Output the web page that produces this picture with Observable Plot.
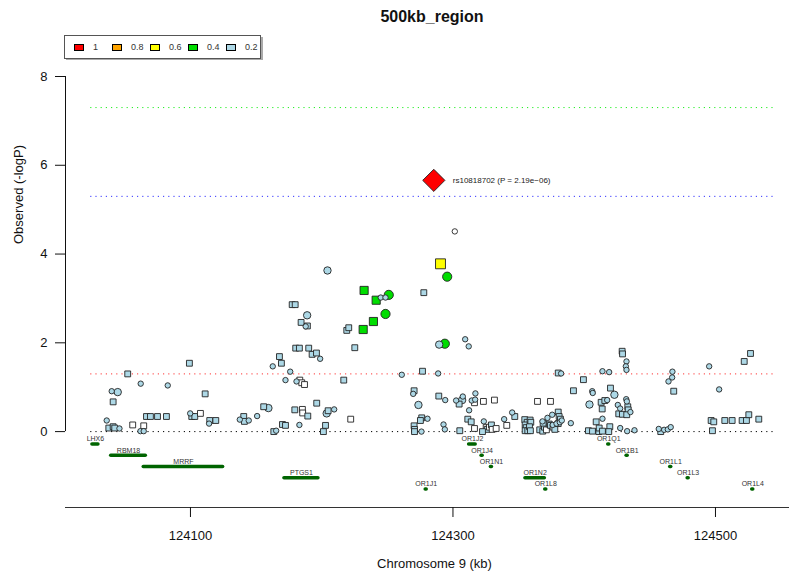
<!DOCTYPE html>
<html><head><meta charset="utf-8">
<script src="https://cdn.jsdelivr.net/npm/d3@7"></script>
<script src="https://cdn.jsdelivr.net/npm/@observablehq/plot@0.6"></script>
<style>
body{margin:0;background:#fff;font-family:"Liberation Sans",Arial,sans-serif;}
#wrap{position:relative;width:789px;height:577px;overflow:hidden;background:#fff;}
#title{position:absolute;left:282px;width:300px;top:7px;text-align:center;font-weight:bold;font-size:16px;line-height:20px;color:#111;}
#legend{position:absolute;left:64px;top:35px;width:195px;height:22px;border:1px solid #555;box-shadow:2px 2px 0 #aaa;background:#fff;}
.item{position:absolute;top:0;height:22px;display:flex;align-items:center;font-size:9px;color:#333;}
.sw{width:8px;height:5px;border:1px solid #000;margin-right:9px;}
#chart{position:absolute;left:0;top:60px;}
</style></head>
<body><div id="wrap"><div id="title"></div><div id="legend"></div><div id="chart"></div></div>
<script>
const chartTitle = "500kb_region";
const xTitle = "Chromosome 9 (kb)";
const yTitle = "Observed (-logP)";
const topSnpLabel = "rs10818702 (P = 2.19e\u221206)";
const xTicks = [124100, 124300, 124500];
const yTicks = [0, 2, 4, 6, 8];
const sigLevels = [7.3, 5.3, 1.3, 0];
const regionStart = 124024, regionEnd = 124546;
const ldBins = ["1", "0.8", "0.6", "0.4", "0.2"];

const snpPos = [
124099.2,124052.2,124062.1,124082.7,124040.0,124044.6,124041.1,124111.2,124036.2,124037.8,
124041.1,124042.3,124045.9,124056.0,124064.4,124061.9,124064.4,124066.5,124069.5,124074.9,
124081.7,124099.8,124101.0,124103.3,124107.6,124114.7,124119.3,124114.2,124137.6,124140.6,
124141.1,124144.4,124150.8,124155.8,124159.4,124204.4,124232.3,124241.5,124245.0,124248.6,
124251.1,124248.6,124239.4,124231.6,124277.8,124177.5,124179.8,124188.9,124184.3,124189.1,
124187.8,124219.1,124220.6,124225.2,124180.2,124183.0,124190.1,124192.7,124196.0,124198.8,
124167.8,124169.3,124162.7,124176.0,124172.4,124180.8,124183.3,124184.8,124186.9,124216.8,
124261.0,124276.8,124270.4,124269.7,124273.7,124276.2,124275.2,124280.6,124270.4,124270.7,
124270.7,124276.0,124179.5,124185.3,124185.5,124189.4,124196.2,124204.9,124203.8,124209.5,
124222.1,124170.1,124172.4,124183.0,124202.9,124201.3,124163.5,124165.3,124285.4,124301.4,
124290.5,124295.6,124289.5,124293.8,124309.3,124312.0,124288.7,124380.2,124382.4,124399.4,
124391.8,124289.2,124294.1,124302.4,124307.0,124307.5,124304.7,124314.3,124316.9,124317.1,
124316.4,124323.2,124331.6,124364.4,124374.3,124312.3,124345.1,124347.1,124339.0,124311.3,
124313.9,124323.5,124292.8,124293.8,124305.2,124316.4,124325.3,124326.1,124327.8,124329.3,
124329.9,124332.9,124341.0,124354.7,124356.5,124355.0,124355.8,124355.0,124357.0,124358.8,
124359.3,124358.3,124359.0,124366.1,124368.4,124369.7,124371.2,124373.3,124374.3,124376.3,
124377.6,124368.7,124368.2,124372.0,124376.0,124378.9,124381.4,124382.9,124375.6,124380.2,
124380.9,124381.9,124380.2,124389.8,124403.2,124404.0,124406.1,124406.5,124409.1,124406.3,
124411.1,124322.5,124428.9,124429.2,124432.2,124431.7,124432.2,124413.9,124419.0,124467.2,
124467.0,124464.2,124526.7,124521.9,124495.2,124502.8,124468.2,124420.0,124423.0,124432.0,
124432.5,124412.9,124415.7,124417.5,124425.6,124427.4,124433.2,124433.5,124435.2,124426.3,
124429.1,124432.4,124413.7,124413.9,124419.5,124411.4,124413.9,124418.7,124427.4,124432.7,
124438.3,124456.8,124458.3,124460.9,124463.7,124465.9,124496.7,124498.7,124507.1,124512.7,
124520.3,124523.6,124525.4,124533.0,124497.7];

const snpLogP = [
1.54,1.30,1.08,1.04,0.91,0.89,0.67,0.85,0.25,0.08,
0.11,0.08,0.07,0.15,0.13,0.01,0.01,0.34,0.34,0.34,
0.34,0.41,0.34,0.34,0.41,0.25,0.25,0.18,0.27,0.34,
0.23,0.25,0.35,0.56,0.53,3.63,3.18,2.96,3.02,3.02,
3.08,2.65,2.48,2.30,3.13,2.86,2.86,2.62,2.46,2.38,
2.37,2.28,2.34,1.89,1.88,1.88,1.88,1.74,1.77,1.64,
1.69,1.54,1.47,1.35,1.16,1.13,1.16,1.10,1.06,1.16,
1.28,1.36,0.92,0.85,0.60,0.31,0.25,0.29,0.13,0.05,
0.00,0.00,0.49,0.50,0.42,0.35,0.64,0.47,0.41,0.50,
0.28,0.16,0.14,0.15,0.14,0.00,0.00,0.02,5.66,4.51,
3.78,3.49,1.96,1.98,2.08,1.92,1.31,1.32,1.31,1.17,
0.92,0.80,0.71,0.70,0.71,0.79,0.62,0.70,0.72,0.86,
0.65,0.68,0.71,0.68,0.68,0.48,0.43,0.34,0.28,0.28,
0.22,0.23,0.16,0.05,0.02,0.07,0.09,0.05,0.10,0.15,
0.05,0.07,0.14,0.27,0.21,0.15,0.09,0.02,0.02,0.26,
0.21,0.11,0.02,0.04,0.01,0.10,0.04,0.17,0.14,0.10,
0.05,0.19,0.23,0.31,0.15,0.18,0.21,0.25,0.38,0.44,
0.34,0.28,0.18,0.19,0.02,0.61,0.91,0.87,0.22,0.01,
0.00,0.00,1.81,1.75,1.58,1.47,1.39,1.36,1.34,1.35,
1.22,1.13,1.76,1.58,1.47,0.95,0.91,0.98,0.83,0.73,
0.68,0.66,0.70,0.71,0.60,0.52,0.56,0.49,0.44,0.40,
0.39,0.38,0.51,0.29,0.11,0.08,0.01,0.00,0.08,0.01,
0.03,0.06,0.00,0.04,0.05,0.10,0.25,0.22,0.25,0.25,
0.25,0.25,0.38,0.28,0.02];

const S = "square", C = "circle", D = "diamond2";
const snpShape = [
S,S,C,C,C,C,S,S,C,S, S,S,C,S,S,C,C,S,S,S, S,C,S,S,S,S,S,C,C,S, S,C,C,S,C,C,S,S,C,C,
C,C,S,S,S,S,S,C,S,S, C,S,S,S,S,S,S,S,S,C, S,S,C,C,C,C,S,S,S,S, C,S,S,C,C,S,S,C,S,S,
S,C,S,S,S,S,S,S,C,C, S,S,S,C,S,S,S,C,D,C, S,C,C,C,C,C,C,S,C,S, S,S,C,C,C,C,S,C,C,C,
S,S,S,S,S,C,C,S,C,S, S,C,C,C,S,S,S,S,S,S, S,S,S,S,S,S,S,S,S,S, S,S,S,S,S,S,S,S,S,S,
S,S,C,C,C,C,C,C,C,S, S,S,S,C,S,C,C,C,S,S, S,S,S,S,C,C,C,C,C,C, C,C,S,S,C,C,S,S,C,C,
C,S,S,C,C,C,S,S,C,S, S,S,S,C,S,S,S,S,C,C, C,C,S,C,C,C,S,S,S,S, S,S,S,S,S];

const snpR2 = [
.1,.1,.1,.1,.1,.3,.1,.1,.1,.1, .1,.1,.1,0,0,.1,.1,.1,.1,.1, .1,.1,.1,.1,0,.1,.1,.1,.1,.1, .1,.1,.1,.1,.3,.3,.45,.45,.1,.1,
.45,.45,.45,.45,.1,.1,.1,.3,.1,.1, .1,.1,.1,.1,.1,.1,.1,.1,.1,.1, .1,.1,.1,.1,.1,.1,0,0,0,.1, .1,.1,.1,.1,.3,.1,.1,.1,.1,.1,
.1,.1,.1,0,0,.1,.1,.1,.3,.1, 0,.1,.1,.1,.1,.1,.1,.1,1,0, .65,.45,.3,.45,.1,.1,.1,.1,.1,.1, .1,.1,.1,.1,.3,.1,.1,.1,.1,.1,
0,0,0,0,0,.1,.1,.1,.1,.1, .1,.1,.1,.1,.1,0,0,.1,0,.1, 0,0,0,.1,.1,.1,.1,.1,.1,.1, .1,.1,.1,.1,.1,.1,0,.1,.1,0,
.1,.1,.1,.1,.1,.1,.1,.1,.1,.1, .1,.1,.1,.1,.1,.3,.1,.1,.1,.1, .1,.1,.1,.1,.1,.1,.1,.1,.1,.1, .1,.1,.1,.1,.1,.1,.1,.1,.3,.1,
.1,.1,.1,.1,.1,.1,.1,.1,.1,.1, .1,.1,.1,.1,.1,.1,.1,.1,.1,.1, .1,.1,.1,.1,.1,.1,.1,.1,.1,.1, .1,.1,.1,.1,.1];

const geneName  = ["LHX6","RBM18","MRRF","PTGS1","OR1J1","OR1J2","OR1J4","OR1N1","OR1N2","OR1L8","OR1Q1","OR1B1","OR1L1","OR1L3","OR1L4"];
const geneStart = [124025.3,124039.6,124064.4,124171.6,124279.2,124312.3,124321.8,124328.9,124355.2,124370.3,124418.3,124432.3,124465.5,124478.8,124528.0];
const geneEnd   = [124029.9,124066.0,124124.9,124197.5,124280.0,124317.3,124322.6,124329.7,124370.0,124371.1,124419.1,124433.1,124466.3,124479.6,124528.8];
const geneRow   = [0,1,2,3,4,0,1,2,3,4,0,1,2,3,4];

// ---- build tables ----
const snps = snpPos.map((p, i) => ({pos: p, logp: snpLogP[i], shape: snpShape[i], r2: snpR2[i]}));
const genes = geneName.map((n, i) => ({name: n, start: geneStart[i], end: geneEnd[i], row: geneRow[i]}));
const rowY = r => -0.28 - 0.253 * r;

const ldColors = ["#FF0000", "#FFA500", "#FFFF00", "#00DD00", "#ADD8E6"];
function ldFill(r2) {
  if (r2 === 0) return "#FFFFFF";
  if (r2 >= 0.95) return ldColors[0];
  if (r2 >= 0.8) return ldColors[1];
  if (r2 >= 0.6) return ldColors[2];
  if (r2 >= 0.4) return ldColors[3];
  return ldColors[4];
}
function ldRadius(d) {
  if (d.r2 >= 0.95) return 10;
  if (d.r2 >= 0.6) return 5.6;
  if (d.r2 >= 0.4) return 4.6;
  if (d.r2 >= 0.2) return 3.7;
  return d.shape === C ? 2.7 : 3.3;
}

// ---- title & legend ----
document.getElementById("title").textContent = chartTitle;
const leg = document.getElementById("legend");
ldBins.forEach((lab, i) => {
  const it = document.createElement("div");
  it.className = "item";
  it.style.left = (9 + 38 * i) + "px";
  const sw = document.createElement("div");
  sw.className = "sw";
  sw.style.background = ldColors[i];
  it.appendChild(sw);
  it.appendChild(document.createTextNode(lab));
  leg.appendChild(it);
});

const xDomain = [124004.8, 124556.4];
const yDomain = [-1.71, 8];
const sigColors = ["#22EE22", "#3333FF", "#FF3333", "#000000"];

const chart = Plot.plot({
  width: 789, height: 517,
  marginLeft: 65, marginRight: 0, marginTop: 16, marginBottom: 70,
  style: {fontFamily: "'Liberation Sans', Arial, sans-serif", fontSize: "13px", background: "white", color: "#111"},
  x: {domain: xDomain},
  y: {domain: yDomain},
  r: {type: "identity"},
  color: {type: "identity"},
  marks: [
    Plot.ruleY(sigLevels, {y: d => d, x1: regionStart, x2: regionEnd, stroke: (d, i) => sigColors[i], strokeWidth: 1, strokeDasharray: "1.2,4"}),
    Plot.ruleX([xDomain[0]], {y1: 0, y2: 8, stroke: "#111"}),
    Plot.ruleY([yDomain[0]], {stroke: "#333"}),
    Plot.axisY({ticks: yTicks, tickSize: 10, tickPadding: 8, fontSize: 13, label: null}),
    Plot.axisX({ticks: xTicks, tickSize: 10, tickPadding: 13, fontSize: 13, label: null, tickFormat: "d"}),
    Plot.text([yTitle], {frameAnchor: "left", rotate: -90, dx: -47, dy: -48, fontSize: 13, fill: "#111"}),
    Plot.text([xTitle], {frameAnchor: "bottom", dx: 7, dy: 60, fontSize: 13, fill: "#111"}),
    Plot.ruleY(genes, {y: d => rowY(d.row), x1: "start", x2: "end", stroke: "#006400", strokeWidth: 3.5, strokeLinecap: "round"}),
    Plot.text(genes, {x: d => (d.start + d.end) / 2, y: d => rowY(d.row), text: "name", dy: -5, fontSize: 7, fill: "#333"}),
    Plot.dot(snps, {x: "pos", y: "logp", symbol: "shape", r: d => ldRadius(d), fill: d => ldFill(d.r2), stroke: "#222", strokeWidth: 0.9}),
    Plot.text(snps.filter(d => d.shape === D), {x: "pos", y: "logp", text: () => topSnpLabel, textAnchor: "start", dx: 19, fontSize: 8, fill: "#222"})
  ]
});
document.getElementById("chart").appendChild(chart);
</script></body></html>
